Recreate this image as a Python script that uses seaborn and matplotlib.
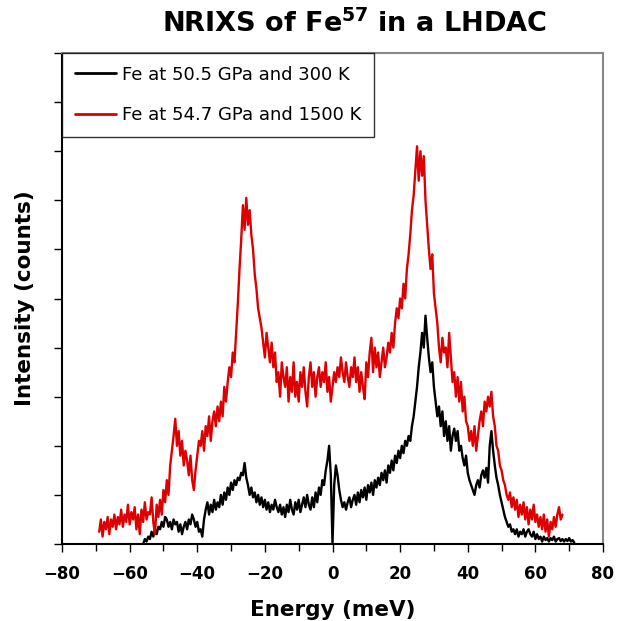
import numpy as np
import pandas as pd
import matplotlib
matplotlib.use("Agg")
import matplotlib.pyplot as plt
from matplotlib.ticker import MultipleLocator, NullFormatter
import seaborn as sns

# ---- data ----
# red: 1500 K spectrum, sampled every 0.5 meV from -69 meV
red_start, red_step = -69.0, 0.5
red_counts = [
    0.25, 0.5, 0.15, 0.45, 0.3, 0.55, 0.2, 0.5, 0.35, 0.6,
    0.3, 0.55, 0.4, 0.7, 0.35, 0.6, 0.45, 0.8, 0.4, 0.65,
    0.5, 0.75, 0.3, 0.6, 0.2, 0.7, 0.45, 0.85, 0.5, 0.65,
    0.6, 0.95, 0.45, 0.2, 0.8, 0.55, 0.9, 0.6, 1.1, 0.85,
    1.3, 1.0, 1.6, 1.9, 2.2, 2.55, 2.0, 2.3, 1.8, 2.1,
    1.6, 1.9, 1.7, 1.4, 1.8, 1.3, 1.1, 1.5, 1.8, 2.1,
    2.0, 2.3, 1.9, 2.4, 2.2, 2.6, 2.1, 2.5, 2.7, 2.4,
    2.8, 2.5, 2.9, 2.6, 3.2, 2.9, 3.3, 3.6, 3.4, 3.9,
    3.7, 4.3, 4.9, 5.6, 6.2, 6.9, 6.4, 7.05, 6.5, 6.8,
    6.3, 6.0, 5.5, 5.2, 4.8, 4.6, 4.4, 4.1, 3.8, 4.3,
    4.0, 3.7, 4.1, 3.6, 3.9, 3.3, 3.5, 3.0, 3.7, 3.4,
    3.2, 3.6, 2.9, 3.4, 3.1, 3.7, 3.0, 3.3, 2.9, 3.5,
    3.2, 3.6, 3.1, 2.8, 3.4, 3.7, 3.2, 3.5, 3.0, 3.4,
    3.6, 3.2, 3.5, 3.3, 3.7, 3.1, 3.4, 2.9, 3.2, 3.5,
    3.3, 3.6, 3.4, 3.8, 3.5, 3.3, 3.7, 3.4, 3.2, 3.6,
    3.4, 3.8, 3.3, 3.6, 3.1, 3.5, 3.2, 2.95, 3.7, 3.4,
    3.9, 4.2, 3.5, 4.0, 3.6, 3.9, 3.4, 3.7, 4.0, 3.6,
    3.8, 4.1, 3.9, 4.3, 4.0, 4.5, 4.8, 4.6, 5.0, 4.8,
    5.3, 5.0, 5.6, 5.9, 6.3, 6.8, 7.1, 7.6, 8.1, 7.4,
    8.0, 7.5, 7.9, 7.0, 6.5, 6.0, 5.6, 5.9, 5.1, 4.8,
    4.5, 4.0, 3.7, 4.2, 3.9, 4.0, 3.6, 4.3, 3.8, 3.3,
    3.5, 3.0, 3.4, 2.9, 3.3, 2.7, 3.0, 2.5, 2.4, 2.1,
    2.3, 2.0, 2.4, 1.9, 2.2, 2.5, 2.7, 2.4, 2.9, 2.7,
    3.0, 2.8, 3.1, 2.6, 2.4, 2.0, 1.9, 1.6, 1.5, 1.3,
    1.2, 1.0, 0.9, 1.05, 0.75, 0.95, 0.7, 0.9, 0.55, 0.8,
    0.6, 0.85, 0.5, 0.75, 0.4, 0.7, 0.5, 0.8, 0.45, 0.6,
    0.35, 0.55, 0.3, 0.6, 0.25, 0.5, 0.15, 0.45, 0.3, 0.55,
    0.35, 0.6, 0.75, 0.5, 0.6,
]

# black: 300 K spectrum, sampled every 0.5 meV from -56 meV
black_start, black_step = -56.0, 0.5
black_counts = [
    0.0, 0.1, 0.05, 0.15, 0.1, 0.25, 0.15, 0.3, 0.2, 0.35,
    0.3, 0.45, 0.35, 0.55, 0.5, 0.35, 0.45, 0.3, 0.5, 0.4,
    0.45, 0.25, 0.4, 0.2, 0.35, 0.45, 0.3, 0.5, 0.4, 0.6,
    0.5, 0.35, 0.45, 0.25, 0.3, 0.15, 0.5, 0.7, 0.85, 0.6,
    0.8, 0.65, 0.9, 0.7, 0.85, 0.75, 1.0, 0.8, 1.05, 0.9,
    1.15, 1.0, 1.25, 1.1, 1.3, 1.2, 1.35, 1.3, 1.45, 1.4,
    1.65, 1.35, 1.2, 1.0, 1.15, 0.95, 1.05, 0.85, 1.0, 0.8,
    0.95, 0.75, 0.9, 0.7, 0.85, 0.65, 0.8, 0.7, 0.9, 0.75,
    0.65, 0.8, 0.6, 0.75, 0.55, 0.8, 0.65, 0.9, 0.7, 0.6,
    0.85, 0.7, 0.9, 0.65, 0.8, 0.95, 0.75, 1.0, 0.8, 0.7,
    0.95, 0.75, 1.05, 0.85, 1.15, 1.0, 1.3, 1.2, 1.5, 1.7,
    2.0, 1.4, 0.0, 1.2, 1.6, 1.4, 1.1, 0.9, 0.75, 0.85,
    0.7, 0.85, 0.95, 0.75, 0.9, 1.0, 0.8, 1.05, 0.85, 1.1,
    0.95, 1.15, 0.9, 1.2, 1.05, 1.25, 1.0, 1.3, 1.15, 1.35,
    1.2, 1.45, 1.3, 1.5, 1.25, 1.6, 1.45, 1.7, 1.5, 1.8,
    1.65, 1.9, 1.75, 2.0, 1.85, 2.1, 2.0, 2.2, 2.1, 2.4,
    2.6, 2.9, 3.2, 3.6, 3.9, 4.3, 4.0, 4.65, 4.2, 3.8,
    3.5, 3.7, 3.2, 2.9, 2.6, 2.8, 2.4, 2.7, 2.2, 2.5,
    2.1, 2.4, 1.9, 2.2, 2.35, 2.1, 2.3, 1.9, 2.0, 1.75,
    1.6, 1.8, 1.45, 1.3, 1.2, 1.1, 1.0, 1.2, 1.3, 1.15,
    1.4, 1.5, 1.35, 1.55, 1.25, 2.0, 2.3, 1.9, 1.6, 1.35,
    1.2, 1.0, 0.85, 0.7, 0.55, 0.45, 0.35, 0.4, 0.25, 0.3,
    0.2, 0.3, 0.15, 0.25, 0.2, 0.3, 0.15, 0.25, 0.3, 0.2,
    0.15, 0.25, 0.1, 0.2, 0.1, 0.15, 0.05, 0.15, 0.08, 0.12,
    0.05, 0.12, 0.08, 0.15, 0.05, 0.1, 0.12, 0.06, 0.1, 0.05,
    0.1, 0.06, 0.12, 0.05, 0.08, 0.03,
]

series_labels = ["Fe at 50.5 GPa and 300 K", "Fe at 54.7 GPa and 1500 K"]
series_colors = ["#000000", "#dd0000"]
x_ticks = [-80, -60, -40, -20, 0, 20, 40, 60, 80]
title_text = "NRIXS of Fe$^{\\mathbf{57}}$ in a LHDAC"

black_energy = black_start + black_step * np.arange(len(black_counts))
red_energy = red_start + red_step * np.arange(len(red_counts))

df = pd.concat([
    pd.DataFrame({"Energy": black_energy, "Counts": black_counts, "Series": series_labels[0]}),
    pd.DataFrame({"Energy": red_energy, "Counts": red_counts, "Series": series_labels[1]}),
], ignore_index=True)

sns.set_style("white")
plt.rcParams["font.family"] = ["DejaVu Sans"]
plt.rcParams["mathtext.fontset"] = "dejavusans"
plt.rcParams["text.color"] = "black"
plt.rcParams["axes.labelcolor"] = "black"
plt.rcParams["xtick.color"] = "black"
plt.rcParams["ytick.color"] = "black"

fig = plt.figure(figsize=(6.19, 6.21), dpi=100)
ax = fig.add_axes([62/619, 1 - 544/621, (603-62)/619, (544-53)/621])

sns.lineplot(data=df, x="Energy", y="Counts", hue="Series", hue_order=series_labels,
             palette=series_colors, sort=False, estimator=None, linewidth=1.7, ax=ax)

ax.set_xlim(-80, 80)
ax.set_ylim(0, 10)
ax.set_xticks(x_ticks)
ax.xaxis.set_minor_locator(MultipleLocator(10))
ax.yaxis.set_major_locator(MultipleLocator(1))
ax.yaxis.set_major_formatter(NullFormatter())
ax.tick_params(axis="x", which="major", direction="out", length=6, width=1, colors="black",
               labelsize=12, pad=9, bottom=True)
ax.tick_params(axis="x", which="minor", direction="out", length=5, width=1, colors="black",
               bottom=True)
ax.tick_params(axis="y", which="major", direction="out", length=6, width=1, colors="black",
               left=True)
for lab in ax.get_xticklabels():
    lab.set_fontweight("bold")
    lab.set_color("black")

for s in ["left", "bottom"]:
    ax.spines[s].set_color("black")
    ax.spines[s].set_linewidth(1.5)
for s in ["top", "right"]:
    ax.spines[s].set_color("#888888")
    ax.spines[s].set_linewidth(1.5)

ax.set_xlabel("Energy (meV)", fontsize=15.5, fontweight="bold", labelpad=12, color="black")
ax.set_ylabel("Intensity (counts)", fontsize=15.5, fontweight="bold", labelpad=10, color="black")

leg = ax.legend(loc="upper left", bbox_to_anchor=(0.0, 1.0), borderaxespad=0.0,
                fontsize=13, frameon=True, fancybox=False, handlelength=2.3,
                labelspacing=1.25, borderpad=0.7, handletextpad=0.3)
leg.get_frame().set_edgecolor("black")
leg.get_frame().set_linewidth(1.0)
for ln in leg.get_lines():
    ln.set_linewidth(2.0)
for t in leg.get_texts():
    t.set_color("black")

fig.text(355/619, 1 - 24/621, title_text, ha="center", va="center",
         fontsize=19.5, fontweight="bold", color="black")

fig.savefig("out.png", dpi=100)
